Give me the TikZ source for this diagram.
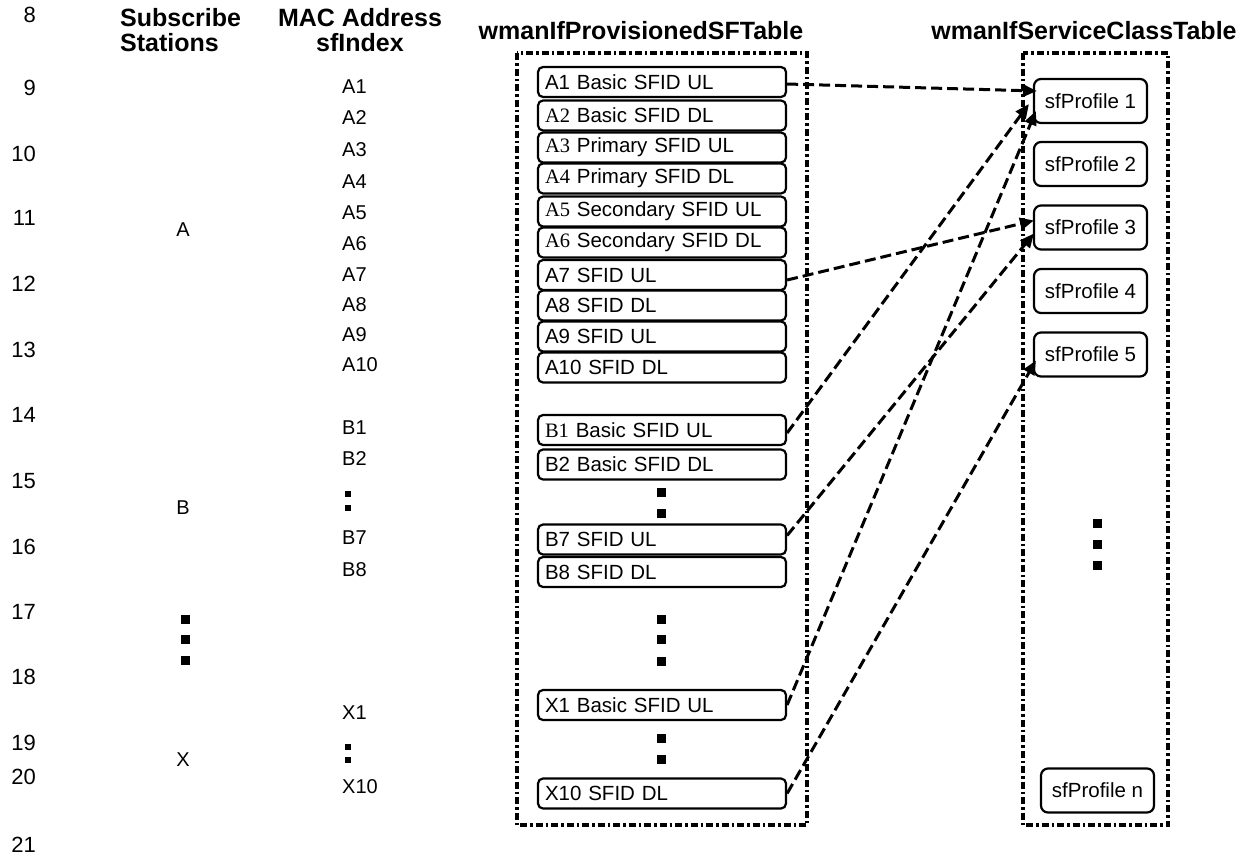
\documentclass[tikz,border=0pt]{standalone}
\usepackage{fontspec}
\setmainfont{Liberation Sans}
\newfontfamily\serifpre{Liberation Serif}
\usetikzlibrary{arrows.meta,calc}
\tikzset{
  txt/.style={inner sep=0pt,font=\fontsize{20}{24}\selectfont},
  num/.style={inner sep=0pt,anchor=east,font=\fontsize{22}{26}\selectfont},
  mac/.style={inner sep=0pt,anchor=west,font=\fontsize{20}{24}\selectfont},
  hdr/.style={inner sep=0pt,font=\fontsize{25}{25}\selectfont\bfseries},
  sfbox/.style={draw,rounded corners=5pt,line width=2.2pt,minimum height=30pt,
     text width=234pt,inner xsep=7pt,inner ysep=0pt,align=left,font=\fontsize{20.5}{24}\selectfont},
  pbox/.style={draw,rounded corners=7pt,line width=2.2pt,minimum width=113pt,minimum height=44pt,
     inner sep=0pt,font=\fontsize{20.5}{24}\selectfont},
  tablebox/.style={draw,line width=3.2pt,dash pattern=on 7pt off 3pt on 2.5pt off 3pt},
  link/.style={line width=3pt,dash pattern=on 11pt off 5pt,-{Triangle[length=14pt,width=12pt]}},
  bigdot/.style={fill,minimum size=9pt,inner sep=0pt},
  smalldot/.style={fill,minimum size=6pt,inner sep=0pt}
}
\begin{document}
\begin{tikzpicture}[x=1pt,y=-1pt]
\useasboundingbox (0,0) rectangle (1249,857);
% line numbers
\node[num] (n8) at (36,15) {8};
\node[num] (n9) at (36,88) {9};
\node[num] (n10) at (36,154) {10};
\node[num] (n11) at (36,218) {11};
\node[num] (n12) at (36,284) {12};
\node[num] (n13) at (36,350) {13};
\node[num] (n14) at (36,415) {14};
\node[num] (n15) at (36,481) {15};
\node[num] (n16) at (36,547) {16};
\node[num] (n17) at (36,612) {17};
\node[num] (n18) at (36,677) {18};
\node[num] (n19) at (36,743) {19};
\node[num] (n20) at (36,777) {20};
\node[num] (n21) at (36,845) {21};
% headers
\node[hdr,align=left,anchor=west] (hss) at (120,30) {Subscribe\\Stations};
\node[hdr,align=center] (hmac) at (360,30) {MAC Address\\sfIndex};
\node[hdr] (hprov) at (641,31) {wmanIfProvisionedSFTable};
\node[hdr] (hsvc) at (1084,31) {wmanIfServiceClassTable};
% subscriber stations
\node[txt] (ssA) at (183,230) {A};
\node[txt] (ssB) at (183,508) {B};
\node[txt] (ssX) at (183,760) {X};
\node[bigdot] (ssd1) at (185,619) {};
\node[bigdot] (ssd2) at (185,639) {};
\node[bigdot] (ssd3) at (185,660) {};
% MAC column
\node[mac] (mA1) at (342,87) {A1};
\node[mac] (mA2) at (342,118) {A2};
\node[mac] (mA3) at (342,150) {A3};
\node[mac] (mA4) at (342,182) {A4};
\node[mac] (mA5) at (342,213) {A5};
\node[mac] (mA6) at (342,244) {A6};
\node[mac] (mA7) at (342,275) {A7};
\node[mac] (mA8) at (342,305) {A8};
\node[mac] (mA9) at (342,335) {A9};
\node[mac] (mA10) at (342,365) {A10};
\node[mac] (mB1) at (342,428) {B1};
\node[mac] (mB2) at (342,459) {B2};
\node[smalldot] (md1) at (348,494) {};
\node[smalldot] (md2) at (348,508) {};
\node[mac] (mB7) at (342,538) {B7};
\node[mac] (mB8) at (342,570) {B8};
\node[mac] (mX1) at (342,713) {X1};
\node[smalldot] (md3) at (348,747) {};
\node[smalldot] (md4) at (348,760) {};
\node[mac] (mX10) at (342,787) {X10};
% provisioned table
\draw[tablebox] (517,53) rectangle (807,825);
\node[sfbox] (pA1) at (662,82) {A1 Basic SFID UL};
\node[sfbox] (pA2) at (662,115.5) {{\serifpre A2} Basic SFID DL};
\node[sfbox] (pA3) at (662,147.5) {{\serifpre A3} Primary SFID UL};
\node[sfbox] (pA4) at (662,178.5) {{\serifpre A4} Primary SFID DL};
\node[sfbox] (pA5) at (662,211.5) {{\serifpre A5} Secondary SFID UL};
\node[sfbox] (pA6) at (662,242.5) {{\serifpre A6} Secondary SFID DL};
\node[sfbox] (pA7) at (662,275) {A7 SFID UL};
\node[sfbox] (pA8) at (662,305.5) {A8 SFID DL};
\node[sfbox] (pA9) at (662,336.5) {A9 SFID UL};
\node[sfbox] (pA10) at (662,367.5) {A10 SFID DL};
\node[sfbox] (pB1) at (662,430) {{\serifpre B1} Basic SFID UL};
\node[sfbox] (pB2) at (662,464.5) {B2 Basic SFID DL};
\node[bigdot] (pd1) at (661,492) {};
\node[bigdot] (pd2) at (661,513) {};
\node[sfbox] (pB7) at (662,539.5) {B7 SFID UL};
\node[sfbox] (pB8) at (662,572) {B8 SFID DL};
\node[bigdot] (pd3) at (661,619) {};
\node[bigdot] (pd4) at (661,639) {};
\node[bigdot] (pd5) at (661,661) {};
\node[sfbox] (pX1) at (662,705) {X1 Basic SFID UL};
\node[bigdot] (pd6) at (661,738) {};
\node[bigdot] (pd7) at (661,759) {};
\node[sfbox] (pX10) at (662,793.5) {X10 SFID DL};
% service class table
\draw[tablebox] (1023,53) rectangle (1168,825);
\node[pbox] (sf1) at (1090.5,101) {sfProfile 1};
\node[pbox] (sf2) at (1090.5,164) {sfProfile 2};
\node[pbox] (sf3) at (1090.5,227.5) {sfProfile 3};
\node[pbox] (sf4) at (1090.5,291) {sfProfile 4};
\node[pbox] (sf5) at (1090.5,354.5) {sfProfile 5};
\node[bigdot] (sd1) at (1097,523) {};
\node[bigdot] (sd2) at (1097,544) {};
\node[bigdot] (sd3) at (1097,565) {};
\node[pbox] (sfn) at (1097.5,790.5) {sfProfile n};
% links
\draw[link] ([yshift=-2pt]pA1.east) -- ([xshift=4pt,yshift=10pt]sf1.west);
\draw[link] ([yshift=-3pt]pB1.east) -- ([xshift=-4pt,yshift=-3pt]sf1.west);
\draw[link] (pX1.east) -- ([xshift=3pt,yshift=-10pt]sf1.west);
\draw[link] ([yshift=-5pt]pA7.east) -- ([xshift=1pt,yshift=7pt]sf3.west);
\draw[link] ([yshift=4pt]pB7.east) -- ([xshift=1pt,yshift=-6pt]sf3.west);
\draw[link] (pX10.east) -- ([xshift=3pt,yshift=-6pt]sf5.west);
\end{tikzpicture}
\end{document}
